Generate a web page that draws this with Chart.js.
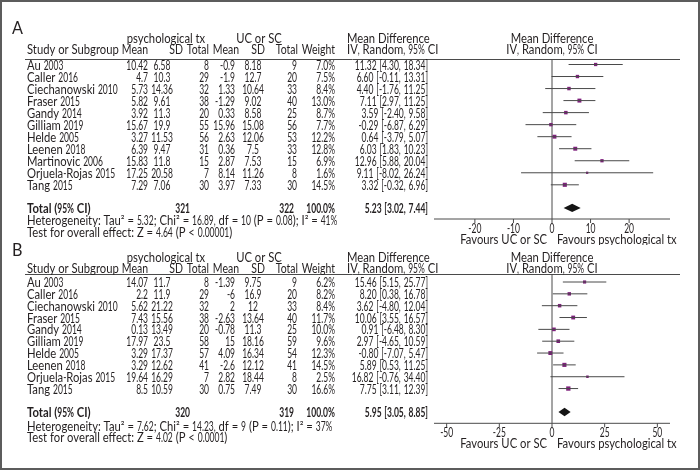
<!DOCTYPE html>
<html>
<head>
<meta charset="utf-8">
<script src="https://cdn.jsdelivr.net/npm/chart.js@4.4.1/dist/chart.umd.min.js"></script>
<style>
  html, body { margin: 0; padding: 0; background: #fff; }
  #frame { position: relative; width: 700px; height: 470px; overflow: hidden; background: #fff; }
  #frame canvas { position: absolute; left: 0; }
  #edge { position: absolute; left: 0; top: 0; width: 700px; height: 470px; box-sizing: border-box; border: 2px solid #5c5c5c; pointer-events: none; }
</style>
</head>
<body>
<div id="frame">
  <canvas id="panelA" width="700" height="245" style="top:0"></canvas>
  <canvas id="panelB" width="700" height="230" style="top:240px"></canvas>
  <div id="edge"></div>
</div>
<script>
// Panel A
const studiesA = ['Au 2003', 'Caller 2016', 'Ciechanowski 2010', 'Fraser 2015', 'Gandy 2014', 'Gilliam 2019',
  'Helde 2005', 'Leenen 2018', 'Martinovic 2006', 'Orjuela-Rojas 2015', 'Tang 2015'];
const txMeanA = [10.42, 4.7, 5.73, 5.82, 3.92, 15.67, 3.27, 6.39, 15.83, 17.25, 7.29];
const txSdA = [6.58, 10.3, 14.36, 9.61, 11.3, 19.9, 11.53, 9.47, 11.8, 20.58, 7.06];
const txNA = [8, 29, 32, 38, 20, 55, 56, 31, 15, 7, 30];
const ucMeanA = [-0.9, -1.9, 1.33, -1.29, 0.33, 15.96, 2.63, 0.36, 2.87, 8.14, 3.97];
const ucSdA = [8.18, 12.7, 10.64, 9.02, 8.58, 15.08, 12.06, 7.5, 7.53, 11.26, 7.33];
const ucNA = [9, 20, 33, 40, 25, 56, 53, 33, 15, 8, 30];
const weightA = [7.0, 7.5, 8.4, 13.0, 8.7, 7.7, 12.2, 12.8, 6.9, 1.6, 14.5];
const mdA = [11.32, 6.60, 4.40, 7.11, 3.59, -0.29, 0.64, 6.03, 12.96, 9.11, 3.32];
const loA = [4.30, -0.11, -1.76, 2.97, -2.40, -6.87, -3.79, 1.83, 5.88, -8.02, -0.32];
const hiA = [18.34, 13.31, 11.25, 11.25, 9.58, 6.29, 5.07, 10.23, 20.04, 26.24, 6.96];
const totalA = [321, 322, 5.23, 3.02, 7.44]; // tx N, uc N, MD, lower, upper
const hetA = 'Heterogeneity: Tau² = 5.32; Chi² = 16.89, df = 10 (P = 0.08); I² = 41%';
const testA = 'Test for overall effect: Z = 4.64 (P < 0.00001)';
const ticksA = [-20, -10, 0, 10, 20];

// Panel B
const studiesB = ['Au 2003', 'Caller 2016', 'Ciechanowski 2010', 'Fraser 2015', 'Gandy 2014', 'Gilliam 2019',
  'Helde 2005', 'Leenen 2018', 'Orjuela-Rojas 2015', 'Tang 2015'];
const txMeanB = [14.07, 2.2, 5.62, 7.43, 0.13, 17.97, 3.29, 3.29, 19.64, 8.5];
const txSdB = [11.7, 11.9, 21.22, 15.56, 13.49, 23.5, 17.37, 12.62, 16.29, 10.59];
const txNB = [8, 29, 32, 38, 20, 58, 57, 41, 7, 30];
const ucMeanB = [-1.39, -6, 2, -2.63, -0.78, 15, 4.09, -2.6, 2.82, 0.75];
const ucSdB = [9.75, 16.9, 12, 13.64, 11.3, 18.16, 16.34, 12.12, 18.44, 7.49];
const ucNB = [9, 20, 33, 40, 25, 59, 54, 41, 8, 30];
const weightB = [6.2, 8.2, 8.4, 11.7, 10.0, 9.6, 12.3, 14.5, 2.5, 16.6];
const mdB = [15.46, 8.20, 3.62, 10.06, 0.91, 2.97, -0.80, 5.89, 16.82, 7.75];
const loB = [5.15, 0.38, -4.80, 3.55, -6.48, -4.65, -7.07, 0.53, -0.76, 3.11];
const hiB = [25.77, 16.78, 12.04, 16.57, 8.30, 10.59, 5.47, 11.25, 34.40, 12.39];
const totalB = [320, 319, 5.95, 3.05, 8.85];
const hetB = 'Heterogeneity: Tau² = 7.62; Chi² = 14.23, df = 9 (P = 0.11); I² = 37%';
const testB = 'Test for overall effect: Z = 4.02 (P < 0.0001)';
const ticksB = [-50, -25, 0, 25, 50];

const FONT = 'Lato';
const SIZE = 12.5;
const LETTERS = 0.9;    // the original typeface is a little narrower than Lato...
const FIGURES = 0.68;   // ...and has much narrower figures
const NUM = /[0-9.,%\[\]\-]/;
const C = { text: '#231f20', line: '#4a4a4a', mark: '#7e1f7c', diamond: '#151515' };

// x positions of the table columns (page pixels)
const COL = { study: 27, txMean: 148, txSd: 162, txN: 209, ucMean: 235, ucSd: 253, ucN: 297,
  weight: 335, effect: 428, effHead: 347, totTxN: 190, totUcN: 294, lineL: 25, lineR: 680 };

// draws text with narrowed glyphs, aligned like fillText would
function put(ctx, s, x, y, align, bold, size, letters) {
  ctx.font = (bold ? 'bold ' : '') + (size || SIZE) + 'px ' + FONT;
  ctx.textBaseline = 'middle';
  ctx.textAlign = 'left';
  ctx.fillStyle = C.text;
  const runs = s.match(/[0-9.,%\[\]\-]+|[^0-9.,%\[\]\-]+/g) || [];
  const ks = runs.map(r => NUM.test(r[0]) ? FIGURES : (letters || LETTERS));
  const ws = runs.map((r, i) => ctx.measureText(r).width * ks[i]);
  const total = ws.reduce((p, w) => p + w, 0);
  let cx = align === 'left' ? x : align === 'right' ? x - total : x - total / 2;
  runs.forEach((r, i) => {
    ctx.save();
    ctx.translate(cx, y);
    ctx.scale(ks[i], 1);
    ctx.fillText(r, 0, 0);
    ctx.restore();
    cx += ws[i];
  });
}

function forest(id, d, L) {
  const n = d.studies.length;
  const yMin = -(L.row0 - L.lineY) / L.rowGap;
  const yMax = (L.axisY - L.row0) / L.rowGap;
  const yTot = n - 1 + L.totalGap;
  const T = v => v - L.top;   // page y -> canvas y

  const ciSets = d.studies.map((s, i) => ({
    type: 'line',
    data: [{ x: d.lo[i], y: i }, { x: d.hi[i], y: i }],
    borderColor: C.line, borderWidth: 1, pointRadius: 0, fill: false, clip: false
  }));
  const squares = {
    type: 'scatter',
    data: d.md.map((m, i) => ({ x: m, y: i })),
    pointStyle: 'rect',
    pointRadius: d.weight.map(w => 1 + 0.5 * Math.sqrt(w)),
    backgroundColor: C.mark, borderWidth: 0, clip: false
  };

  const drawing = {
    id: 'forestText',
    beforeDatasetsDraw(chart) {
      const ctx = chart.ctx, a = chart.chartArea, x = chart.scales.x;
      const x0 = x.getPixelForValue(0);
      ctx.save();
      ctx.strokeStyle = C.line;
      ctx.lineWidth = 1;
      // header rule
      ctx.beginPath();
      ctx.moveTo(COL.lineL, a.top); ctx.lineTo(COL.lineR, a.top);
      // line of no effect
      ctx.moveTo(x0, a.top); ctx.lineTo(x0, a.bottom);
      // axis
      ctx.moveTo(a.left, a.bottom); ctx.lineTo(a.right, a.bottom);
      d.ticks.forEach(t => {
        const px = x.getPixelForValue(t);
        ctx.moveTo(px, a.bottom); ctx.lineTo(px, a.bottom + 4);
      });
      ctx.stroke();
      ctx.restore();
    },
    afterDatasetsDraw(chart) {
      const ctx = chart.ctx, x = chart.scales.x, y = chart.scales.y;
      const x0 = x.getPixelForValue(0);
      ctx.save();
      // pooled diamond
      const yt = y.getPixelForValue(yTot);
      ctx.beginPath();
      ctx.moveTo(x.getPixelForValue(d.total[3]), yt);
      ctx.lineTo(x.getPixelForValue(d.total[2]), yt - 4.2);
      ctx.lineTo(x.getPixelForValue(d.total[4]), yt);
      ctx.lineTo(x.getPixelForValue(d.total[2]), yt + 4.2);
      ctx.closePath();
      ctx.fillStyle = C.diamond;
      ctx.fill();

      // titles
      put(ctx, L.label, L.labelX, T(L.labelY), 'left', false, 18);
      put(ctx, 'psychological tx', 166, T(L.groupY), 'center');
      put(ctx, 'UC or SC', 259, T(L.groupY), 'center');
      put(ctx, 'Mean Difference', COL.effHead, T(L.groupY), 'left');
      put(ctx, 'Mean Difference', x0, T(L.groupY), 'center');
      const hy = T(L.headY), hk = 0.84;
      put(ctx, 'Study or Subgroup', COL.study, hy, 'left');
      put(ctx, 'Mean', 148, hy, 'right', false, 0, hk);
      put(ctx, 'SD', 183, hy, 'right', false, 0, hk);
      put(ctx, 'Total', 209, hy, 'right', false, 0, hk);
      put(ctx, 'Mean', 239, hy, 'right', false, 0, hk);
      put(ctx, 'SD', 265, hy, 'right', false, 0, hk);
      put(ctx, 'Total', 298, hy, 'right', false, 0, hk);
      put(ctx, 'Weight', 335, hy, 'right', false, 0, hk);
      put(ctx, 'IV, Random, 95% CI', COL.effHead, hy, 'left');
      put(ctx, 'IV, Random, 95% CI', x0, hy, 'center');

      // study rows
      d.studies.forEach((s, i) => {
        const ry = y.getPixelForValue(i) + 1;
        put(ctx, s, COL.study, ry, 'left');
        put(ctx, String(d.txMean[i]), COL.txMean, ry, 'right');
        put(ctx, String(d.txSd[i]), COL.txSd, ry, 'center');
        put(ctx, String(d.txN[i]), COL.txN, ry, 'right');
        put(ctx, String(d.ucMean[i]), COL.ucMean, ry, 'right');
        put(ctx, String(d.ucSd[i]), COL.ucSd, ry, 'center');
        put(ctx, String(d.ucN[i]), COL.ucN, ry, 'right');
        put(ctx, d.weight[i].toFixed(1) + '%', COL.weight, ry, 'right');
        put(ctx, d.md[i].toFixed(2) + ' [' + d.lo[i].toFixed(2) + ', ' + d.hi[i].toFixed(2) + ']', COL.effect, ry, 'right');
      });

      // total row
      const ty = yt + 1;
      put(ctx, 'Total (95% CI)', COL.study, ty, 'left', true);
      put(ctx, String(d.total[0]), COL.totTxN, ty, 'right', true);
      put(ctx, String(d.total[1]), COL.totUcN, ty, 'right', true);
      put(ctx, '100.0%', COL.weight, ty, 'right', true);
      put(ctx, d.total[2].toFixed(2) + ' [' + d.total[3].toFixed(2) + ', ' + d.total[4].toFixed(2) + ']', COL.effect, ty, 'right', true);
      put(ctx, d.het, COL.study, T(L.hetY), 'left');
      put(ctx, d.test, COL.study, T(L.testY), 'left');

      // tick labels and direction labels
      d.ticks.forEach(t => put(ctx, String(t), x.getPixelForValue(t), T(L.tickY), 'center'));
      put(ctx, 'Favours UC or SC', x0 - 5, T(L.favY), 'right');
      put(ctx, 'Favours psychological tx', x0 + 5, T(L.favY), 'left');
      ctx.restore();
    }
  };

  return new Chart(document.getElementById(id), {
    type: 'scatter',
    data: { datasets: ciSets.concat([squares]) },
    options: {
      responsive: false,
      animation: false,
      events: [],
      layout: { padding: { left: 434, right: 30, top: T(L.lineY), bottom: L.top + L.height - L.axisY } },
      plugins: { legend: { display: false }, tooltip: { enabled: false } },
      scales: {
        x: { type: 'linear', min: L.xMin, max: L.xMax, display: false },
        y: { type: 'linear', min: yMin, max: yMax, reverse: true, display: false }
      }
    },
    plugins: [drawing]
  });
}

document.fonts.load(SIZE + 'px ' + FONT).then(() => document.fonts.load('bold ' + SIZE + 'px ' + FONT)).finally(() => {
  forest('panelA', {
    studies: studiesA, txMean: txMeanA, txSd: txSdA, txN: txNA, ucMean: ucMeanA, ucSd: ucSdA, ucN: ucNA,
    weight: weightA, md: mdA, lo: loA, hi: hiA, total: totalA, het: hetA, test: testA, ticks: ticksA
  }, {
    top: 0, height: 245, label: 'A', labelX: 12, labelY: 28, groupY: 38.5, headY: 50, lineY: 59.5,
    row0: 64.5, rowGap: 12.03, totalGap: 1.92, axisY: 219, hetY: 221, testY: 232.5, tickY: 228.5, favY: 240,
    xMin: -30.6, xMax: 30.6
  });
  forest('panelB', {
    studies: studiesB, txMean: txMeanB, txSd: txSdB, txN: txNB, ucMean: ucMeanB, ucSd: ucSdB, ucN: ucNB,
    weight: weightB, md: mdB, lo: loB, hi: hiB, total: totalB, het: hetB, test: testB, ticks: ticksB
  }, {
    top: 240, height: 230, label: 'B', labelX: 12, labelY: 250, groupY: 257.5, headY: 269, lineY: 274.5,
    row0: 282, rowGap: 11.84, totalGap: 1.98, axisY: 423.3, hetY: 426.5, testY: 437.5, tickY: 433, favY: 443.5,
    xMin: -56, xMax: 56
  });
});
</script>
</body>
</html>
